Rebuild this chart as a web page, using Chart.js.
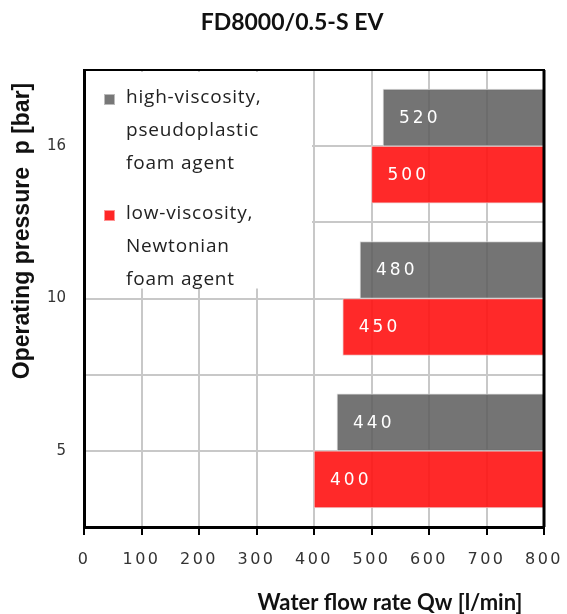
<!DOCTYPE html>
<html>
<head>
<meta charset="utf-8">
<script src="https://cdn.jsdelivr.net/npm/chart.js"></script>
<style>
    html, body { margin: 0; padding: 0; background: #fff; }
    #wrap { width: 567px; height: 614px; position: relative; }
</style>
</head>
<body>
<div id="wrap"><canvas id="flowChart"></canvas></div>
<script>
// Operating pressure p [bar], top to bottom
const pressures = ['16', '10', '5'];

// Water flow rate Qw [l/min] where each bar starts (bars run to the end of the scale)
const highViscosity = [520, 480, 440];
const lowViscosity = [500, 450, 400];
const flowMax = 800;
const flowStep = 100;

// Texts
const chartTitle = 'FD8000/0.5-S EV';
const xTitle = 'Water flow rate Qw [l/min]';
const yTitle = 'Operating pressure  p [bar]';
const legendHigh = ['high-viscosity,', 'pseudoplastic', 'foam agent'];
const legendLow = ['low-viscosity,', 'Newtonian', 'foam agent'];

// position of each pressure group on the (linear) y scale, top = highest
const positions = pressures.map((p, i) => pressures.length - i);

function toBars(starts) {
    return starts.map((v, i) => ({ x: [v, flowMax], y: positions[i] }));
}

// Draws the texts, legend, value labels and frame
const decorPlugin = {
    id: 'decor',
    afterDatasetsDraw(chart) {
        const ctx = chart.ctx;
        const area = chart.chartArea;
        const xScale = chart.scales.x;
        const yScale = chart.scales.y;

        ctx.save();

        // value labels inside the bars
        ctx.fillStyle = '#fff';
        ctx.textBaseline = 'middle';
        ctx.textAlign = 'left';
        ctx.letterSpacing = '3px';
        ctx.font = '17px "DejaVu Sans"';
        chart.data.datasets.forEach((ds, di) => {
            chart.getDatasetMeta(di).data.forEach((bar, i) => {
                ctx.fillText(String(ds.starts[i]), Math.min(bar.base, bar.x) + 16, bar.y + 1);
            });
        });

        // legend box
        const boxRight = xScale.getPixelForValue(400) - 2;
        const boxBottom = yScale.getPixelForValue(2) - 10;
        ctx.fillStyle = '#fff';
        ctx.fillRect(area.left + 2, area.top + 2, boxRight - area.left - 2, boxBottom - area.top - 2);

        ctx.letterSpacing = '0.8px';
        const drawItem = (lines, color, top) => {
            ctx.fillStyle = color;
            ctx.fillRect(area.left + 20, top - 7, 11, 11);
            ctx.strokeStyle = 'rgba(255,255,255,0.5)';
            ctx.lineWidth = 1;
            ctx.strokeRect(area.left + 20.5, top - 6.5, 10, 10);
            ctx.fillStyle = '#222';
            ctx.font = '19px "Open Sans"';
            ctx.textBaseline = 'alphabetic';
            lines.forEach((t, k) => ctx.fillText(t, area.left + 42, top + 2 + k * 33));
        };
        drawItem(legendHigh, '#777', area.top + 31);
        drawItem(legendLow, '#ff2626', area.top + 147);
        ctx.letterSpacing = '0px';

        // frame: top and right edges
        ctx.strokeStyle = '#000';
        ctx.lineWidth = 2;
        ctx.beginPath();
        ctx.moveTo(area.left, area.top);
        ctx.lineTo(area.right + 1, area.top);
        ctx.stroke();
        ctx.lineWidth = 3;
        ctx.beginPath();
        ctx.moveTo(area.right, area.top);
        ctx.lineTo(area.right, area.bottom);
        ctx.stroke();

        // titles
        ctx.fillStyle = '#111';
        ctx.textAlign = 'center';
        ctx.textBaseline = 'middle';
        ctx.font = 'bold 23px Lato';
        ctx.fillText(chartTitle, 292, 23);
        ctx.font = 'bold 22px Lato';
        ctx.fillText(xTitle, 390, 603);
        ctx.translate(23, 231);
        ctx.rotate(-Math.PI / 2);
        ctx.font = 'bold 23px "Liberation Sans"';
        ctx.fillText(yTitle, 0, 0);

        ctx.restore();

        // x tick labels are drawn after this hook (ticks.z = 1), spaced out
        ctx.letterSpacing = '2.5px';
    },
    afterDraw(chart) {
        chart.ctx.letterSpacing = '0px';
    }
};

const ctx = document.getElementById('flowChart').getContext('2d');

const flowChart = new Chart(ctx, {
    type: 'bar',
    data: {
        datasets: [
            {
                label: 'high',
                starts: highViscosity,
                data: toBars(highViscosity),
                backgroundColor: 'rgba(92, 92, 92, 0.85)',
                borderColor: 'rgba(215, 215, 215, 0.9)',
                borderWidth: 1,
                borderSkipped: false
            },
            {
                label: 'low',
                starts: lowViscosity,
                data: toBars(lowViscosity),
                backgroundColor: 'rgba(255, 18, 18, 0.9)',
                borderColor: 'rgba(240, 200, 200, 0.9)',
                borderWidth: 1,
                borderSkipped: false
            }
        ]
    },
    options: {
        indexAxis: 'y',
        responsive: true,
        maintainAspectRatio: false,
        animation: false,
        layout: { padding: { top: 70, right: 23, bottom: 0, left: 0 } },
        barThickness: 57,
        plugins: {
            legend: { display: false },
            title: { display: false },
            tooltip: { enabled: false }
        },
        scales: {
            x: {
                type: 'linear',
                min: 0,
                max: flowMax,
                afterFit: scale => {
                    scale.height = 87;
                    scale.paddingLeft = 0;
                    scale.paddingRight = 0;
                },
                ticks: {
                    stepSize: flowStep,
                    color: '#333',
                    font: { family: 'DejaVu Sans', size: 16 },
                    padding: 15,
                    maxRotation: 0,
                    z: 1
                },
                grid: {
                    color: '#c8c8c8',
                    lineWidth: 2,
                    tickLength: 8,
                    tickColor: '#000',
                    tickWidth: 2
                },
                border: { color: '#000', width: 3 }
            },
            y: {
                type: 'linear',
                offset: false,
                min: 0.5,
                max: pressures.length + 0.5,
                afterFit: scale => {
                    scale.width = 84;
                    scale.paddingTop = 0;
                    scale.paddingBottom = 0;
                },
                ticks: {
                    stepSize: 0.5,
                    autoSkip: false,
                    color: '#333',
                    font: { family: 'DejaVu Sans', size: 15 },
                    padding: 18,
                    callback: value => {
                        const i = positions.indexOf(value);
                        return i >= 0 ? pressures[i] : '';
                    }
                },
                grid: {
                    offset: false,
                    color: '#c8c8c8',
                    lineWidth: 2,
                    drawTicks: false
                },
                border: { color: '#000', width: 3 }
            }
        }
    },
    plugins: [decorPlugin]
});
</script>
</body>
</html>
